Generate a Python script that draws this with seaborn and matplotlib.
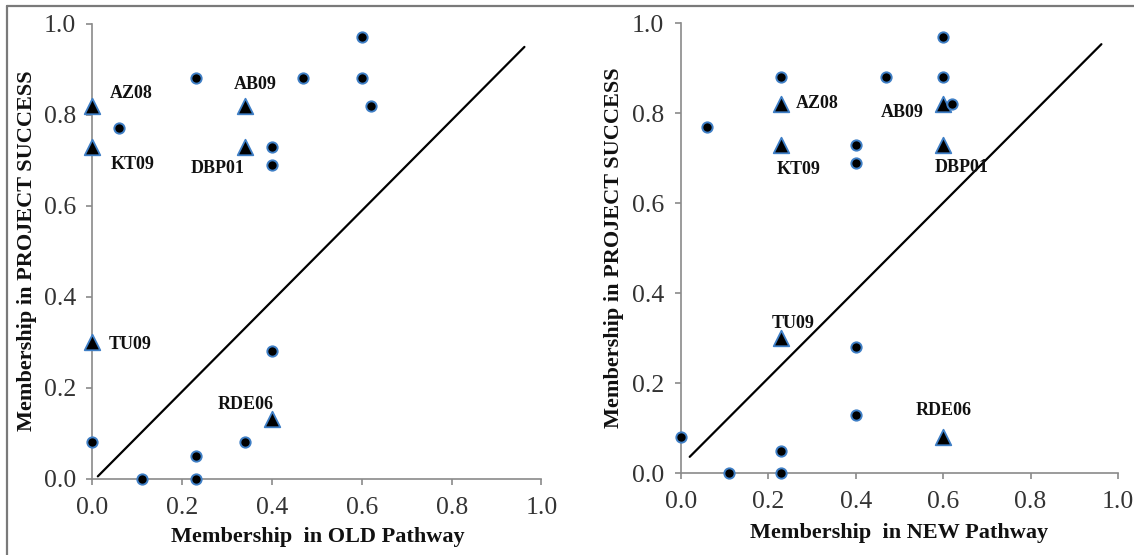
import matplotlib
matplotlib.use("Agg")
import matplotlib.pyplot as plt
import seaborn as sns
import pandas as pd
from matplotlib.lines import Line2D

# ---------------- data ----------------
# OLD pathway panel: other cases (circles)
old_x = [0.23, 0.47, 0.60, 0.60, 0.62, 0.06, 0.40, 0.40, 0.40, 0.00, 0.11, 0.23, 0.23, 0.34]
old_y = [0.88, 0.88, 0.97, 0.88, 0.82, 0.77, 0.73, 0.69, 0.28, 0.08, 0.00, 0.05, 0.00, 0.08]
# NEW pathway panel: other cases (circles)
new_x = [0.23, 0.47, 0.60, 0.60, 0.62, 0.06, 0.40, 0.40, 0.40, 0.40, 0.00, 0.11, 0.23, 0.23]
new_y = [0.88, 0.88, 0.97, 0.88, 0.82, 0.77, 0.73, 0.69, 0.28, 0.13, 0.08, 0.00, 0.05, 0.00]

# labelled cases (triangles)
case_labels = ["AZ08", "KT09", "AB09", "DBP01", "TU09", "RDE06"]
case_old_x = [0.00, 0.00, 0.34, 0.34, 0.00, 0.40]
case_old_y = [0.82, 0.73, 0.82, 0.73, 0.30, 0.13]
case_new_x = [0.23, 0.23, 0.60, 0.60, 0.23, 0.60]
case_new_y = [0.82, 0.73, 0.82, 0.73, 0.30, 0.08]

# diagonal reference lines
diag_old_x = [0.012, 0.962]
diag_old_y = [0.005, 0.949]
diag_new_x = [0.020, 0.962]
diag_new_y = [0.036, 0.953]

ticks = [0.0, 0.2, 0.4, 0.6, 0.8, 1.0]
tick_labels = ["0.0", "0.2", "0.4", "0.6", "0.8", "1.0"]

# label placement (offset in pixels from the triangle, alignment)
old_label_pos = {
    "AZ08": (17, 12, "left"), "KT09": (18, -18, "left"),
    "AB09": (10, 21, "center"), "DBP01": (-1, -22, "right"),
    "TU09": (16, -2, "left"), "RDE06": (-26, 15, "center"),
}
new_label_pos = {
    "AZ08": (14, 1, "left"), "KT09": (17, -25, "center"),
    "AB09": (-41, -8, "center"), "DBP01": (18, -23, "center"),
    "TU09": (12, 15, "center"), "RDE06": (0, 27, "center"),
}

# ---------------- style ----------------
sns.set_style("ticks")
plt.rcParams["font.family"] = ["Liberation Serif", "DejaVu Serif"]

SPINE = "#8a8a8a"
EDGE = "#3f7fc6"
TXT = "#333333"

fig = plt.figure(figsize=(11.34, 5.55), dpi=100)
fig.patch.set_facecolor("white")

ax1 = fig.add_axes([0.0815, 0.1376, 0.3960, 0.8197])
ax2 = fig.add_axes([0.6005, 0.1477, 0.3854, 0.8108])


def draw(ax, cx, cy, tx, ty, dx, dy, xlabel, lpos, xlab_xy, ylab_xy):
    dots = pd.DataFrame({"x": cx, "y": cy})
    cases = pd.DataFrame({"x": tx, "y": ty, "label": case_labels})
    sns.lineplot(x=dx, y=dy, ax=ax, color="black", linewidth=1.6, sort=False)
    sns.scatterplot(data=cases, x="x", y="y", ax=ax, marker="^", s=125,
                    color="black", edgecolor=EDGE, linewidth=1.3,
                    clip_on=False, zorder=4)
    sns.scatterplot(data=dots, x="x", y="y", ax=ax, marker="o", s=55,
                    color="black", edgecolor=EDGE, linewidth=1.4,
                    clip_on=False, zorder=5)
    for lab, x, y in zip(case_labels, tx, ty):
        ox, oy, ha = lpos[lab]
        ax.annotate(lab, xy=(x, y), xytext=(ox, oy), textcoords="offset pixels",
                    ha=ha, va="center", fontsize=13, fontweight="bold",
                    color="#111111")
    ax.set_xlim(0, 1)
    ax.set_ylim(0, 1)
    ax.set_xticks(ticks)
    ax.set_xticklabels(tick_labels)
    ax.set_yticks(ticks)
    ax.set_yticklabels(tick_labels)
    for s in ["top", "right"]:
        ax.spines[s].set_visible(False)
    for s in ["left", "bottom"]:
        ax.spines[s].set_color(SPINE)
        ax.spines[s].set_linewidth(1.2)
    ax.tick_params(axis="both", direction="out", length=4, width=1.2,
                   color=SPINE, labelsize=18.5, labelcolor=TXT)
    ax.tick_params(axis="x", pad=9)
    ax.tick_params(axis="y", pad=8)
    ax.set_xlabel(xlabel, fontsize=16, fontweight="bold", color="#111111")
    ax.set_ylabel("Membership in PROJECT SUCCESS", fontsize=16,
                  fontweight="bold", color="#111111")
    ax.xaxis.label.set_va("center")
    ax.yaxis.label.set_va("center")
    ax.xaxis.set_label_coords(*xlab_xy)
    ax.yaxis.set_label_coords(*ylab_xy)


draw(ax1, old_x, old_y, case_old_x, case_old_y, diag_old_x, diag_old_y,
     "Membership  in OLD Pathway", old_label_pos, (0.502, -0.128), (-0.146, 0.5))
draw(ax2, new_x, new_y, case_new_x, case_new_y, diag_new_x, diag_new_y,
     "Membership  in NEW Pathway", new_label_pos, (0.50, -0.133), (-0.153, 0.5))

# outer frame (top and left edges)
fig.add_artist(Line2D([7 / 1134, 1.0], [1 - 6 / 555, 1 - 6 / 555],
                      transform=fig.transFigure, color="#7a7a7a", linewidth=1.6))
fig.add_artist(Line2D([7 / 1134, 7 / 1134], [0.0, 1 - 6 / 555],
                      transform=fig.transFigure, color="#7a7a7a", linewidth=1.6))

fig.savefig("out.png", dpi=100, facecolor="white")
